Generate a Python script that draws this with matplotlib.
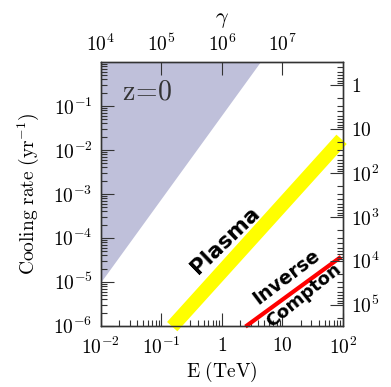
import matplotlib
matplotlib.use("Agg")
import matplotlib.pyplot as plt
import numpy as np

plt.rcParams['mathtext.fontset'] = 'cm'
plt.rcParams['font.family'] = 'DejaVu Serif'

# data
e_ticks = [1e-2, 1e-1, 1, 10, 1e2]
e_labels = [r"$10^{-2}$", r"$10^{-1}$", r"$1$", r"$10$", r"$10^{2}$"]
rate_ticks = [1e-6, 1e-5, 1e-4, 1e-3, 1e-2, 1e-1]
rate_labels = [r"$10^{-6}$", r"$10^{-5}$", r"$10^{-4}$", r"$10^{-3}$", r"$10^{-2}$", r"$10^{-1}$"]
gamma_ticks = [1e4, 1e5, 1e6, 1e7]
gamma_labels = [r"$10^{4}$", r"$10^{5}$", r"$10^{6}$", r"$10^{7}$"]
time_ticks = [1, 10, 1e2, 1e3, 1e4, 1e5]
time_labels = [r"$1$", r"$10$", r"$10^{2}$", r"$10^{3}$", r"$10^{4}$", r"$10^{5}$"]

shade_E = [1e-2, 4.3]          # boundary of the excluded region
shade_rate = [1e-5, 1.0]
plasma_E = [0.151, 95.0]
plasma_rate = [9.6e-7, 1.74e-2]
ic_E = [2.45, 93.0]
ic_rate = [9.6e-7, 3.7e-5]

time_scale = 0.30   # t = time_scale / rate

fig = plt.figure(figsize=(3.91, 3.87), dpi=100)
ax = fig.add_axes([0.258, 0.158, 0.619, 0.682])
ax.set_xscale('log')
ax.set_yscale('log')
ax.set_xlim(1e-2, 1e2)
ax.set_ylim(1e-6, 1)

# shaded region (upper left)
ax.fill_between([1e-3, shade_E[0], shade_E[1], 1e3], [10, shade_rate[0], shade_rate[1], 10],
                [10, 10, 10, 10], color='#bfc0da', lw=0, zorder=0)
ax.fill_between([1e-3, shade_E[0]], [1e-7, 1e-7], [10, shade_rate[0]], color='#bfc0da', lw=0, zorder=0)

ax.plot(plasma_E, plasma_rate, color='#ffff00', lw=10, solid_capstyle='butt', clip_on=False, zorder=3)
ax.plot(ic_E, ic_rate, color='#ff0000', lw=3, solid_capstyle='butt', clip_on=False, zorder=3)

ax.text(1.31, 6.9e-5, "Plasma", fontsize=15.5, fontweight='bold', family='DejaVu Sans',
        rotation=44, rotation_mode='anchor', ha='center', va='baseline', zorder=4)
ax.text(13.0, 1.05e-5, "Inverse", fontsize=13.5, fontweight='bold', family='DejaVu Sans',
        rotation=37, rotation_mode='anchor', ha='center', va='baseline', zorder=4)
ax.text(25.0, 4.1e-6, "Compton", fontsize=13, fontweight='bold', family='DejaVu Sans',
        rotation=39, rotation_mode='anchor', ha='center', va='baseline', zorder=4)
ax.text(0.087, 0.856, r"$\mathrm{z\!=\!0}$", transform=ax.transAxes, fontsize=20,
        color='#333333', ha='left', va='baseline')

tick_kw = dict(which='both', direction='in', color='#333333', width=0.8)
ax.set_xticks(e_ticks)
ax.set_xticklabels(e_labels)
ax.set_yticks(rate_ticks)
ax.set_yticklabels(rate_labels)
ax.tick_params(**tick_kw)
ax.tick_params(which='major', length=9.5, labelsize=14, pad=6)
ax.tick_params(axis='x', which='major', pad=8)
ax.tick_params(which='minor', length=4.5)
ax.set_xlabel(r"$\mathrm{E\ (TeV)}$", fontsize=14, labelpad=1)
ax.set_ylabel(r"$\mathrm{Cooling\ rate\ (yr^{-1})}$", fontsize=14, labelpad=9)

top = ax.twiny()
top.set_xscale('log')
top.set_xlim(1e4, 1e8)
top.set_xticks(gamma_ticks)
top.set_xticklabels(gamma_labels)
top.tick_params(**tick_kw)
top.tick_params(which='major', length=9.5, labelsize=14, pad=5)
top.tick_params(which='minor', length=4.5)
top.set_xlabel(r"$\gamma$", fontsize=16, labelpad=8)

right = ax.twinx()
right.set_yscale('log')
right.set_ylim(time_scale / 1e-6, time_scale / 1.0)
right.set_yticks(time_ticks)
right.set_yticklabels(time_labels)
right.tick_params(**tick_kw)
right.tick_params(which='major', length=9.5, labelsize=14, pad=6)
right.tick_params(which='minor', length=4.5)

for a in (ax, top, right):
    for s in a.spines.values():
        s.set_color('#333333')
        s.set_linewidth(0.9)

plt.savefig("out.png", dpi=100)
